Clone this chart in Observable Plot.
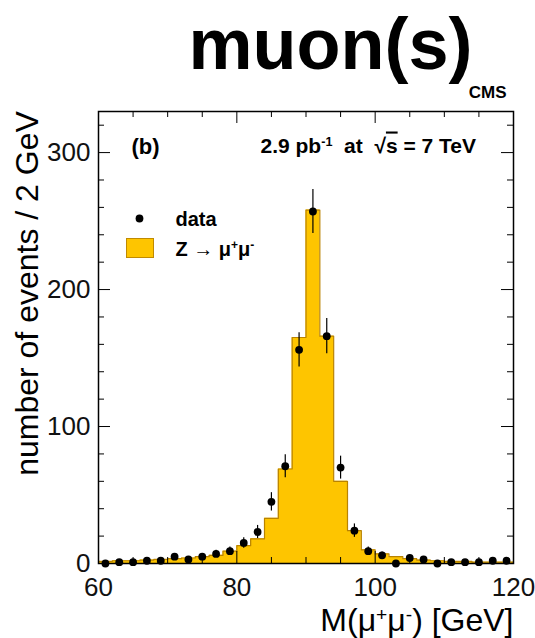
<!DOCTYPE html>
<html><head><meta charset="utf-8">
<script src="https://cdn.jsdelivr.net/npm/d3@7"></script>
<script src="https://cdn.jsdelivr.net/npm/@observablehq/plot@0.6"></script>
<style>
body{margin:0;background:#fff;font-family:"Liberation Sans",Arial,sans-serif}
#wrap{position:relative;width:535px;height:638px}
#swatch{position:absolute;left:126px;top:238px;width:26px;height:18px;background:#fec500;border:1px solid #c08a00}
</style></head><body><div id="wrap"><div id="swatch"></div></div>
<script>
// Bins of 2 GeV: low edges
const binLow = [60,62,64,66,68,70,72,74,76,78,80,82,84,86,88,90,92,94,96,98,100,102,104,106,108,110,112,114,116,118];
const binHigh = 120;
// Z -> mu mu simulation (stacked histogram)
const mcCounts = [1.5,2,2,2.5,3,3.5,4,5,6,9,13,18,33,69,165,258,166,60,24,10,7,5,3.5,2.5,2,1.5,1.5,1,1,1];
// data (bin centres and counts)
const binCenter = [61,63,65,67,69,71,73,75,77,79,81,83,85,87,89,91,93,95,97,99,101,103,105,107,109,111,113,115,117,119];
const dataCounts = [0,1,1,2,2,5,3,5,7,9,15,23,45,71,156,257,166,70,24,9,6,0,4,3,0,1,1,1,2,2];
const xTicks = [60,80,100,120];
const xMinor = [65,70,75,85,90,95,105,110,115];
const yTicks = [0,100,200,300];
const yMinor = [20,40,60,80,120,140,160,180,220,240,260,280,320];

const fill = "#fec500", edge = "#b98300";
const H = 452, W = 415;
const steps = binLow.map((x,i)=>({x, y: mcCounts[i]})).concat([{x: binHigh, y: mcCounts[mcCounts.length-1]}]);
const points = binCenter.map((m,i)=>({m, n: dataCounts[i]}));
const one = [0];

const chart = Plot.plot({
  width: 535, height: 638,
  marginLeft: 98, marginRight: 22, marginTop: 111, marginBottom: 75,
  x: {domain: [60,120], axis: null},
  y: {domain: [0,330], axis: null},
  style: {fontFamily: "Liberation Sans, Arial, sans-serif", color: "#111", background: "transparent"},
  marks: [
    Plot.areaY(steps, {x:"x", y:"y", curve:"step-after", fill}),
    Plot.lineY(steps, {x:"x", y:"y", curve:"step-after", stroke: edge, strokeWidth: 1.2}),
    Plot.ruleX(points.filter(d=>d.n>0), {x:"m", y1: d=>d.n-Math.sqrt(d.n), y2: d=>d.n+Math.sqrt(d.n), stroke:"#000", strokeWidth:1.2}),
    Plot.dot(points, {x:"m", y:"n", r:3.9, fill:"#000"}),
    // inward ticks on all four sides
    Plot.tickX(xTicks, {x: d=>d, insetTop: H-12, stroke:"#000"}),
    Plot.tickX(xMinor, {x: d=>d, insetTop: H-6, stroke:"#000"}),
    Plot.tickX(xTicks, {x: d=>d, insetBottom: H-12, stroke:"#000"}),
    Plot.tickX(xMinor, {x: d=>d, insetBottom: H-6, stroke:"#000"}),
    Plot.tickY(yTicks, {y: d=>d, insetRight: W-12, stroke:"#000"}),
    Plot.tickY(yMinor, {y: d=>d, insetRight: W-6, stroke:"#000"}),
    Plot.tickY(yTicks, {y: d=>d, insetLeft: W-12, stroke:"#000"}),
    Plot.tickY(yMinor, {y: d=>d, insetLeft: W-6, stroke:"#000"}),
    Plot.axisX({anchor:"bottom", ticks: xTicks, tickSize: 0, tickPadding: 14, fontSize: 26, label: null}),
    Plot.axisY({anchor:"left", ticks: yTicks, tickSize: 0, tickPadding: 8, fontSize: 26, label: null}),
    Plot.frame({stroke:"#000", strokeWidth:1.5}),
    // titles and annotations
    Plot.text(["muon(s)"], {text: d=>d, frameAnchor:"top-left", dx:232, dy:-43, textAnchor:"middle", lineAnchor:"bottom", fontSize:72, fontWeight:"bold", fill:"#000"}),
    Plot.text(["CMS"], {text: d=>d, frameAnchor:"top-left", dx:408, dy:-14, textAnchor:"end", lineAnchor:"bottom", fontSize:17, fontWeight:"bold", fill:"#000"}),
    Plot.text(["(b)"], {text: d=>d, frameAnchor:"top-left", dx:33, dy:42, textAnchor:"start", lineAnchor:"bottom", fontSize:22, fontWeight:"bold", fill:"#000"}),
    Plot.text(["2.9 pb^{-1}  at  \u221A~{s} = 7 TeV"], {text: d=>d, frameAnchor:"top-left", dx:162, dy:41, textAnchor:"start", lineAnchor:"bottom", fontSize:21, fontWeight:"bold", fill:"#000"}),
    Plot.dot(one, {frameAnchor:"top-left", dx:41, dy:107, r:3.9, fill:"#000"}),
    Plot.text(["data"], {text: d=>d, frameAnchor:"top-left", dx:77, dy:114, textAnchor:"start", lineAnchor:"bottom", fontSize:20, fontWeight:"bold", fill:"#000"}),
    Plot.text(["Z \u2192 \u03BC^{+}\u03BC^{-}"], {text: d=>d, frameAnchor:"top-left", dx:77, dy:144, textAnchor:"start", lineAnchor:"bottom", fontSize:20, fontWeight:"bold", fill:"#000"}),
    Plot.text(["M(\u03BC^{+}\u03BC^{-}) [GeV]"], {text: d=>d, frameAnchor:"bottom-right", dx:0, dy:67, textAnchor:"end", lineAnchor:"bottom", fontSize:32, fill:"#000"}),
    Plot.text(["number of events / 2 GeV"], {text: d=>d, frameAnchor:"left", dx:-61, dy:-44, rotate:-90, textAnchor:"middle", lineAnchor:"bottom", fontSize:32, fill:"#000"})
  ]
});

// superscripts ^{..} and overlines ~{..}
d3.select(chart).selectAll("text").each(function(){
  const t = this.textContent;
  if (!/[\^~]\{/.test(t)) return;
  const parts = t.split(/([\^~])\{([^}]*)\}/);
  const sel = d3.select(this); sel.text(null);
  for (let i = 0; i < parts.length; i += 3) {
    if (parts[i]) sel.append("tspan").text(parts[i]);
    if (i + 2 < parts.length) {
      const ts = sel.append("tspan").text(parts[i+2]);
      if (parts[i+1] === "^") ts.attr("baseline-shift","super").attr("font-size","60%");
      else ts.style("text-decoration","overline");
    }
  }
});

document.getElementById("wrap").prepend(chart);
</script></body></html>
